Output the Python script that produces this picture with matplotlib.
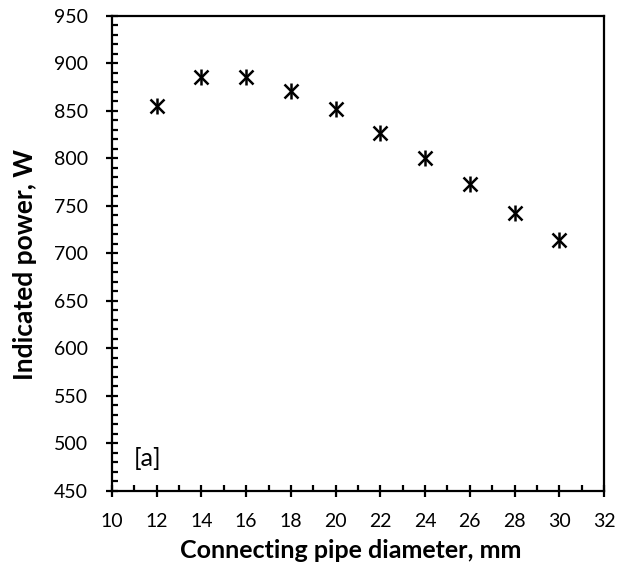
import matplotlib
matplotlib.use("Agg")
import matplotlib.pyplot as plt
from matplotlib.ticker import MultipleLocator

# Data
diameter_mm = [12, 14, 16, 18, 20, 22, 24, 26, 28, 30]
indicated_power_w = [855, 886, 886, 871, 852, 827, 801, 773, 743, 714]

x_ticks = list(range(10, 33, 2))
y_ticks = list(range(450, 951, 50))

plt.rcParams['font.family'] = ['Lato', 'DejaVu Sans']

fig = plt.figure(figsize=(6.17, 5.65), dpi=100)
ax = fig.add_axes([0.1815, 0.131, 0.7975, 0.8407])

# Asterisk-style marker: cross plus vertical bar
ax.plot(diameter_mm, indicated_power_w, linestyle='none', marker='x',
        markersize=9.5, markeredgewidth=1.8, color='black')
ax.plot(diameter_mm, indicated_power_w, linestyle='none', marker='|',
        markersize=11, markeredgewidth=1.8, color='black')

ax.set_xlim(10, 32)
ax.set_ylim(450, 950)
ax.set_xticks(x_ticks)
ax.set_yticks(y_ticks)
ax.xaxis.set_minor_locator(MultipleLocator(1))
ax.yaxis.set_minor_locator(MultipleLocator(10))

for side in ['left', 'right', 'top', 'bottom']:
    ax.spines[side].set_linewidth(1.6)

ax.tick_params(which='major', direction='inout', length=9, width=1.6,
               labelsize=14)
ax.tick_params(axis='x', which='major', pad=11)
ax.tick_params(axis='y', which='major', pad=13)
ax.tick_params(which='minor', direction='in', length=4, width=1.6)

ax.set_xlabel("Connecting pipe diameter, mm", fontsize=18,
              fontweight='bold', va='center')
ax.xaxis.set_label_coords(0.486, -0.126)
ax.set_ylabel("Indicated power, W", fontsize=19,
              fontweight='bold', va='center')
ax.yaxis.set_label_coords(-0.177, 0.476)

ax.text(10.98, 484.7, "[a]", fontsize=18, ha='left', va='center')

fig.savefig("out.png", dpi=100)
